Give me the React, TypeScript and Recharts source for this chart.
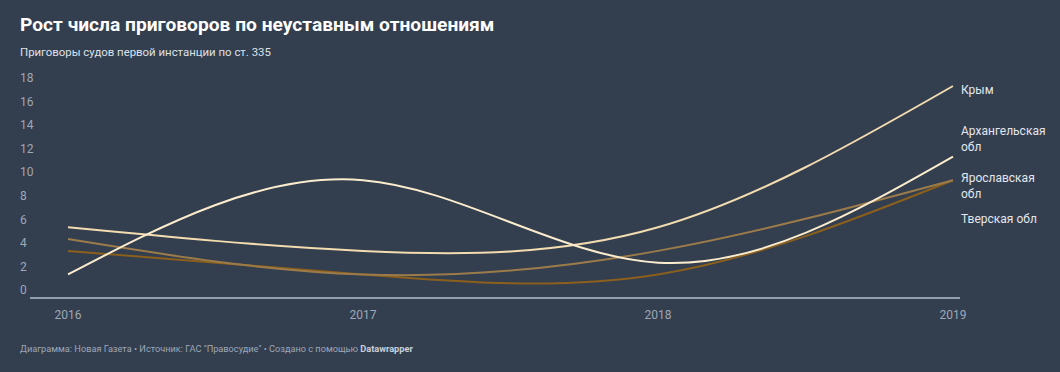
import React from 'react';
import { LineChart, Line, XAxis, YAxis, LabelList } from 'recharts';

const C = {
  bg: '#333e4f',
  title: '#ffffff',
  sub: '#dde2ea',
  muted: '#9ea8b6',
  axis: '#b4bfcd',
  label: '#e3e7ed',
};

const years = [2016, 2017, 2018, 2019];
const yTicks = [0, 2, 4, 6, 8, 10, 12, 14, 16, 18];

const krym = [6, 4, 6, 18];
const arkh = [2, 10, 3, 12];
const yarosl = [5, 2, 4, 10];
const tver = [4, 2, 2, 10];

const data = years.map((y, i) => ({
  year: y,
  krym: krym[i],
  arkh: arkh[i],
  yarosl: yarosl[i],
  tver: tver[i],
}));

interface SeriesDef {
  key: string;
  name: string[];
  color: string;
  dy: number;
}

// drawn back to front
const SERIES: SeriesDef[] = [
  { key: 'tver', name: ['Тверская обл'], color: '#8b5f1c', dy: 39 },
  { key: 'yarosl', name: ['Ярославская', 'обл'], color: '#9c7b4a', dy: -2 },
  { key: 'krym', name: ['Крым'], color: '#f2dcb0', dy: 4 },
  { key: 'arkh', name: ['Архангельская', 'обл'], color: '#fbeccd', dy: -26 },
];

const font = 'Roboto, "Noto Sans", sans-serif';

const YTick = ({ y, payload }: any) => (
  <text x={20} y={y - 8} dy="0.35em" fill={C.muted} fontSize={12} fontFamily={font}>
    {payload.value}
  </text>
);

const endLabel = (s: SeriesDef) => (props: any) => {
  const { x, y, index } = props;
  if (index !== years.length - 1) return null;
  return (
    <text x={x + 8} y={y + s.dy} fill={C.label} fontSize={12} fontFamily={font}>
      {s.name.map((t, i) => (
        <tspan key={i} x={x + 8} dy={i === 0 ? '0.35em' : 16}>{t}</tspan>
      ))}
    </text>
  );
};

export default function App() {
  return (
    <div style={{ position: 'absolute', left: 0, top: 0, width: 1060, height: 372, background: C.bg, fontFamily: font, overflow: 'hidden' }}>
      <div style={{ position: 'absolute', left: 20, top: 13, color: C.title, fontSize: 19.2, fontWeight: 700, whiteSpace: 'nowrap' }}>
        Рост числа приговоров по неуставным отношениям
      </div>
      <div style={{ position: 'absolute', left: 20, top: 45, color: C.sub, fontSize: 11.4, whiteSpace: 'nowrap' }}>
        Приговоры судов первой инстанции по ст. 335
      </div>

      <div style={{ position: 'absolute', left: 0, top: 0 }}>
        <LineChart width={1060} height={372} data={data} margin={{ top: 86, right: 100, bottom: 44, left: 0 }}>
          <XAxis
            dataKey="year"
            type="number"
            domain={[2016, 2019]}
            ticks={years}
            padding={{ left: 38, right: 7 }}
            axisLine={{ stroke: C.axis, strokeWidth: 1.5 }}
            tickLine={false}
            tickMargin={6}
            height={30}
            tick={{ fill: C.muted, fontSize: 12, fontFamily: font }}
          />
          <YAxis
            domain={[0, 18]}
            ticks={yTicks}
            width={30}
            axisLine={false}
            tickLine={false}
            tick={<YTick />}
          />
          {SERIES.map(s => (
            <Line
              key={s.key}
              dataKey={s.key}
              type="natural"
              stroke={s.color}
              strokeWidth={2}
              dot={false}
              activeDot={false}
              isAnimationActive={false}
            >
              <LabelList dataKey={s.key} content={endLabel(s)} />
            </Line>
          ))}
        </LineChart>
      </div>

      <div style={{ position: 'absolute', left: 20, top: 343, color: C.muted, fontSize: 9.2, whiteSpace: 'nowrap' }}>
        Диаграмма: Новая Газета • Источник: ГАС "Правосудие" • Создано с помощью <b style={{ color: '#c9d0da' }}>Datawrapper</b>
      </div>
    </div>
  );
}
